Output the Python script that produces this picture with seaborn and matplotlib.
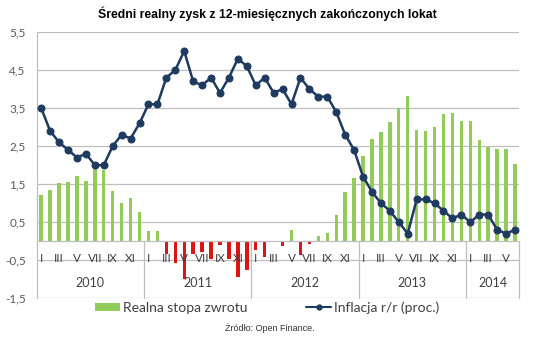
import numpy as np
import pandas as pd
import matplotlib
matplotlib.use("Agg")
import matplotlib.pyplot as plt
import seaborn as sns
from matplotlib.patches import Patch
from matplotlib.lines import Line2D

years = ["2010", "2011", "2012", "2013", "2014"]
month_labels = ["I", "II", "III", "IV", "V", "VI", "VII", "VIII", "IX", "X", "XI", "XII"]

real_return = [
    1.22, 1.34, 1.54, 1.56, 1.72, 1.58, 1.93, 1.86, 1.31, 1.01, 1.13, 0.77,
    0.28, 0.27, -0.33, -0.58, -0.99, -0.33, -0.28, -0.48, -0.10, -0.48, -0.93, -0.75,
    -0.23, -0.42, -0.02, -0.13, 0.30, -0.35, -0.07, 0.14, 0.22, 0.68, 1.29, 1.65,
    2.23, 2.68, 2.87, 3.13, 3.51, 3.82, 2.92, 2.91, 3.01, 3.34, 3.37, 3.16,
    3.15, 2.67, 2.47, 2.43, 2.43, 2.02,
]
inflation = [
    3.5, 2.9, 2.6, 2.4, 2.2, 2.3, 2.0, 2.0, 2.5, 2.8, 2.7, 3.1,
    3.6, 3.6, 4.3, 4.5, 5.0, 4.2, 4.1, 4.3, 3.9, 4.3, 4.8, 4.6,
    4.1, 4.3, 3.9, 4.0, 3.6, 4.3, 4.0, 3.8, 3.8, 3.4, 2.8, 2.4,
    1.7, 1.3, 1.0, 0.8, 0.5, 0.2, 1.1, 1.1, 1.0, 0.8, 0.6, 0.7,
    0.5, 0.7, 0.7, 0.3, 0.2, 0.3,
]
yticks = [-1.5, -0.5, 0.5, 1.5, 2.5, 3.5, 4.5, 5.5]

n = len(real_return)
df = pd.DataFrame({
    "pos": np.arange(n),
    "real": real_return,
    "infl": inflation,
})
df["sign"] = np.where(df["real"] >= 0, "pos", "neg")

GREEN = "#92CB5A"
RED = "#DC1414"
NAVY = "#1F3A5F"
GRID = "#BFBFBF"
TXT = "#404040"

sns.set_theme(style="white")
plt.rcParams["font.family"] = ["Lato", "DejaVu Sans"]

fig = plt.figure(figsize=(5.4, 3.37), dpi=100)
ax = fig.add_axes([0.068, 0.115, 0.894, 0.79])

sns.barplot(data=df, x="pos", y="real", hue="sign",
            palette={"pos": GREEN, "neg": RED}, dodge=False,
            width=0.38, native_scale=True, legend=False, ax=ax,
            linewidth=0, saturation=1)
sns.lineplot(data=df, x="pos", y="infl", color=NAVY, marker="o",
             markersize=5, linewidth=1.8, markeredgecolor=NAVY, ax=ax, zorder=5)

ax.set_xlim(-0.5, n - 0.5)
ax.set_ylim(-1.5, 5.5)
ax.set_yticks(yticks)
ax.set_yticklabels([f"{v:.1f}".replace(".", ",") for v in yticks],
                   fontsize=8.5, color="#595959")
ax.tick_params(axis="y", length=0, pad=8)
ax.set_xticks([])
ax.set_xlabel("")
ax.set_ylabel("")
for v in yticks:
    ax.axhline(v, color=GRID, lw=0.9, zorder=0)
for s in ["top", "right", "bottom"]:
    ax.spines[s].set_visible(False)
ax.spines["left"].set_color(GRID)
ax.spines["left"].set_linewidth(0.9)
ax.axhline(0, color=GRID, lw=0.9, zorder=1)

# multi-level category axis
for i in range(n):
    if i % 2 == 0:
        ax.text(i, -0.46, month_labels[i % 12], ha="center", va="center",
                fontsize=8.5, color=TXT, zorder=6)
for k, yr in enumerate(years):
    start = k * 12
    end = min(start + 12, n)
    ax.text((start + end - 1) / 2, -1.1, yr, ha="center", va="center",
            fontsize=9, color=TXT)
    ax.plot([end - 0.5, end - 0.5], [0, -1.5], color=GRID, lw=0.9,
            clip_on=False)

fig.text(0.495, 0.958, "Średni realny zysk z 12-miesięcznych zakończonych lokat",
         ha="center", va="center", fontsize=8.8, fontweight="bold",
         family="Liberation Sans", color="black")

handles = [Patch(facecolor=GREEN, edgecolor="none"),
           Line2D([0], [0], color=NAVY, lw=1.5, marker="o", markersize=3.5)]
fig.legend(handles, ["Realna stopa zwrotu", "Inflacja r/r (proc.)"],
           loc="center", bbox_to_anchor=(0.495, 0.087), ncol=2, frameon=False,
           fontsize=10, handlelength=1.8, handleheight=0.6, handletextpad=0.2,
           columnspacing=4.2, labelcolor=TXT)

fig.text(0.5, 0.027, "Źródło: Open Finance.", ha="center", va="center",
         fontsize=6.5, family="Liberation Sans", color="#333333")

fig.savefig("out.png", dpi=100)
